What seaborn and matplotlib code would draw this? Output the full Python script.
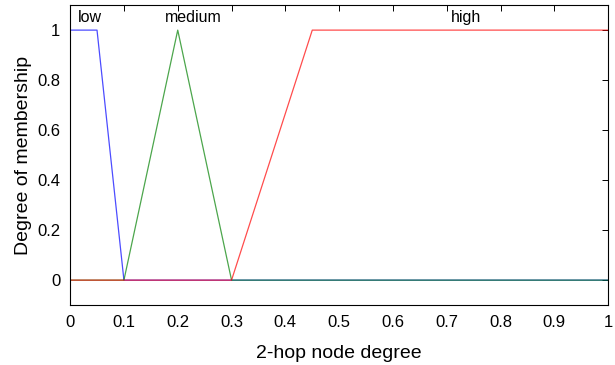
import numpy as np
import pandas as pd
import matplotlib
matplotlib.use("Agg")
import matplotlib.pyplot as plt
import seaborn as sns

# membership function breakpoints
low_x = [0, 0.05, 0.1, 1]
low_y = [1, 1, 0, 0]
medium_x = [0, 0.1, 0.2, 0.3, 1]
medium_y = [0, 0, 1, 0, 0]
high_x = [0, 0.3, 0.45, 1]
high_y = [0, 0, 1, 1]

names = ["low", "medium", "high"]
label_x = [0.037, 0.229, 0.736]
colors = {"low": "#0000ff", "medium": "#008000", "high": "#ff0000"}

df = pd.concat([
    pd.DataFrame({"x": low_x, "y": low_y, "mf": "low"}),
    pd.DataFrame({"x": medium_x, "y": medium_y, "mf": "medium"}),
    pd.DataFrame({"x": high_x, "y": high_y, "mf": "high"}),
])

sns.set_style("white")
plt.rcParams["font.family"] = ["Liberation Sans", "DejaVu Sans"]
plt.rcParams["text.color"] = "black"
plt.rcParams["axes.labelcolor"] = "black"
plt.rcParams["xtick.color"] = "black"
plt.rcParams["ytick.color"] = "black"

fig, ax = plt.subplots(figsize=(6.15, 3.65), dpi=100)
fig.subplots_adjust(left=0.114, right=0.989, top=0.986, bottom=0.164)

sns.lineplot(data=df, x="x", y="y", hue="mf", palette=colors, sort=False,
             linewidth=0.9, alpha=0.7, legend=False, ax=ax)

for name, xpos in zip(names, label_x):
    ax.text(xpos, 1.052, name, ha="center", va="center", fontsize=11.5)

ax.set_xlim(0, 1)
ax.set_ylim(-0.1, 1.1)
ax.set_xticks(np.arange(0, 1.01, 0.1))
ax.set_xticklabels(["0", "0.1", "0.2", "0.3", "0.4", "0.5", "0.6", "0.7", "0.8", "0.9", "1"])
ax.set_yticks([0, 0.2, 0.4, 0.6, 0.8, 1])
ax.set_yticklabels(["0", "0.2", "0.4", "0.6", "0.8", "1"])
ax.tick_params(direction="in", top=True, right=True, length=4, width=0.7,
               labelsize=12, pad=7)
ax.set_xlabel("2-hop node degree", fontsize=14, labelpad=11)
ax.set_ylabel("Degree of membership", fontsize=14, labelpad=4)
for s in ax.spines.values():
    s.set_color("black")
    s.set_linewidth(0.8)

plt.savefig("out.png", dpi=100)
